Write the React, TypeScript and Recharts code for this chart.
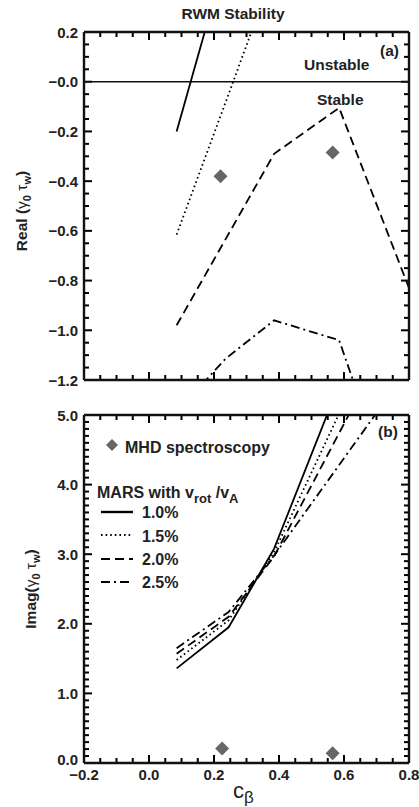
import React from 'react';
import { ComposedChart, Line, Scatter, XAxis, YAxis, ReferenceLine } from 'recharts';

const FONT = "'Liberation Sans', Arial, Helvetica, sans-serif";

// ---- data: panel (a) Real(gamma0 tau_w) vs c_beta ----
const real10 = [
  { c: 0.085, v: -0.2 },
  { c: 0.245, v: 0.54 },
];
const real15 = [
  { c: 0.085, v: -0.615 },
  { c: 0.245, v: -0.05 },
  { c: 0.385, v: 0.45 },
];
const real20 = [
  { c: 0.085, v: -0.98 },
  { c: 0.385, v: -0.29 },
  { c: 0.585, v: -0.105 },
  { c: 0.8, v: -0.83 },
];
const real25 = [
  { c: 0.085, v: -1.33 },
  { c: 0.235, v: -1.115 },
  { c: 0.385, v: -0.96 },
  { c: 0.585, v: -1.04 },
  { c: 0.8, v: -1.85 },
];
const realMHD = [
  { c: 0.22, v: -0.38 },
  { c: 0.565, v: -0.285 },
];

// ---- data: panel (b) Imag(gamma0 tau_w) vs c_beta ----
const imag10 = [
  { c: 0.085, v: 1.36 },
  { c: 0.245, v: 1.95 },
  { c: 0.385, v: 3.08 },
  { c: 0.585, v: 5.44 },
];
const imag15 = [
  { c: 0.085, v: 1.48 },
  { c: 0.245, v: 2.05 },
  { c: 0.385, v: 3.03 },
  { c: 0.585, v: 5.02 },
];
const imag20 = [
  { c: 0.085, v: 1.57 },
  { c: 0.245, v: 2.1 },
  { c: 0.385, v: 2.97 },
  { c: 0.62, v: 5.05 },
];
const imag25 = [
  { c: 0.085, v: 1.65 },
  { c: 0.245, v: 2.17 },
  { c: 0.385, v: 2.98 },
  { c: 0.7, v: 5.03 },
];
const imagMHD = [
  { c: 0.225, v: 0.21 },
  { c: 0.565, v: 0.14 },
];

// ---- ticks ----
const xMajor = [-0.2, 0, 0.2, 0.4, 0.6, 0.8];
const xMajorLabels = ['\u22120.2', '0.0', '0.2', '0.4', '0.6', '0.8'];
const realMajor = [0.2, 0, -0.2, -0.4, -0.6, -0.8, -1.0, -1.2];
const realMajorLabels = ['0.2', '\u22120.0', '\u22120.2', '\u22120.4', '\u22120.6', '\u22120.8', '\u22121.0', '\u22121.2'];
const imagMajor = [0, 1, 2, 3, 4, 5];
const imagMajorLabels = ['0.0', '1.0', '2.0', '3.0', '4.0', '5.0'];

const range = (a: number, b: number, step: number) => {
  const out: number[] = [];
  const n = Math.round((b - a) / step);
  for (let i = 0; i <= n; i++) out.push(Math.round((a + i * step) * 1000) / 1000);
  return out;
};
const xMinor = range(-0.2, 0.8, 0.05);
const realMinor = range(-1.2, 0.2, 0.05);
const imagMinor = range(0, 5, 0.1);

const majorIndex = (v: number, majors: number[]) => majors.findIndex((m) => Math.abs(m - v) < 1e-6);

// geometry of each panel
const W = 419;
const ML = 83;
const MR = 9;
const PLOT_W = W - ML - MR - 2;
const XDOM = [-0.2, 0.8];
const H1 = 400, MT1 = 31, MB1 = 19;
const H2 = 407, MT2 = 14, MB2 = 43;
const PLOT_H1 = H1 - MT1 - MB1 - 2;
const PLOT_H2 = H2 - MT2 - MB2 - 2;

const MAJ = 8; // px
const MIN = 5; // px

const makeLabel = (side: 'bottom' | 'left', majors: number[], labels: string[], liftZero: boolean) =>
  (props: any) => {
    const x = Number(props.x);
    const y = Number(props.y);
    const idx = majorIndex(props.payload.value, majors);
    if (idx < 0) return <g />;
    if (side === 'bottom') {
      return (
        <text x={x} y={y + 17} textAnchor="middle" fontFamily={FONT} fontWeight="bold" fontSize={15} fill="#222">
          {labels[idx]}
        </text>
      );
    }
    const lift = liftZero && majors[idx] === 0 ? -4 : 0;
    return (
      <text x={x - 6} y={y + 5.5 + lift} textAnchor="end" fontFamily={FONT} fontWeight="bold" fontSize={15} fill="#222">
        {labels[idx]}
      </text>
    );
  };

const frame = { stroke: '#111', strokeWidth: 2 };

const Diamond = (props: any) => {
  const { cx, cy } = props;
  const r = 7;
  return <polygon points={`${cx},${cy - r} ${cx + r},${cy} ${cx},${cy + r} ${cx - r},${cy}`} fill="#666" />;
};

const DOTTED = '1.6 3';
const DASHED = '9 5';
const DASHDOT = '9 4 2 4';

const lineProps = {
  xAxisId: 'b',
  yAxisId: 'l',
  dataKey: 'v',
  type: 'linear' as const,
  stroke: '#000',
  strokeWidth: 1.8,
  dot: false,
  activeDot: false,
  isAnimationActive: false,
};

const renderAxes = (domain: number[], majors: number[], labels: string[], xLabels: boolean) => [
  <XAxis key="xb" xAxisId="b" type="number" dataKey="c" orientation="bottom" domain={XDOM} ticks={xMajor}
    interval={0} tickSize={0} tickMargin={0} height={1} axisLine={frame} tickLine={false}
    tick={xLabels ? makeLabel('bottom', xMajor, xMajorLabels, false) : false} allowDataOverflow />,
  <XAxis key="xt" xAxisId="t" type="number" dataKey="c" orientation="top" domain={XDOM} ticks={xMajor}
    interval={0} tickSize={0} height={1} axisLine={frame} tickLine={false} tick={false} allowDataOverflow />,
  <YAxis key="yl" yAxisId="l" type="number" dataKey="v" orientation="left" domain={domain} ticks={majors}
    interval={0} tickSize={0} tickMargin={0} width={1} axisLine={frame} tickLine={false}
    tick={makeLabel('left', majors, labels, xLabels)} allowDataOverflow />,
  <YAxis key="yr" yAxisId="r" type="number" dataKey="v" orientation="right" domain={domain} ticks={majors}
    interval={0} tickSize={0} width={1} axisLine={frame} tickLine={false} tick={false} allowDataOverflow />,
];

// inward tick marks + frame, drawn as reference segments through the chart's own scales
const renderTicks = (ydom: number[], yMajor: number[], yMinor: number[], plotH: number) => {
  const out: any[] = [];
  const unitX = (XDOM[1] - XDOM[0]) / PLOT_W;
  const unitY = (ydom[1] - ydom[0]) / plotH;
  const seg = { xAxisId: 'b', yAxisId: 'l', stroke: '#000', strokeWidth: 2, ifOverflow: 'visible' as const };
  xMinor.forEach((v, i) => {
    const len = (majorIndex(v, xMajor) >= 0 ? MAJ : MIN) * unitY;
    out.push(<ReferenceLine key={`tb${i}`} {...seg} segment={[{ x: v, y: ydom[0] }, { x: v, y: ydom[0] + len }]} />);
    out.push(<ReferenceLine key={`tt${i}`} {...seg} segment={[{ x: v, y: ydom[1] }, { x: v, y: ydom[1] - len }]} />);
  });
  yMinor.forEach((v, i) => {
    const len = (majorIndex(v, yMajor) >= 0 ? MAJ : MIN) * unitX;
    out.push(<ReferenceLine key={`tl${i}`} {...seg} segment={[{ x: XDOM[0], y: v }, { x: XDOM[0] + len, y: v }]} />);
    out.push(<ReferenceLine key={`tr${i}`} {...seg} segment={[{ x: XDOM[1], y: v }, { x: XDOM[1] - len, y: v }]} />);
  });
  const fr = { xAxisId: 'b', yAxisId: 'l', stroke: '#111', strokeWidth: 2.4, ifOverflow: 'visible' as const };
  out.push(<ReferenceLine key="fl" {...fr} x={XDOM[0]} />);
  out.push(<ReferenceLine key="fr" {...fr} x={XDOM[1]} />);
  out.push(<ReferenceLine key="fb" {...fr} y={ydom[0]} />);
  out.push(<ReferenceLine key="ft" {...fr} y={ydom[1]} />);
  return out;
};

const txt = { fontFamily: FONT, fontWeight: 'bold' as const, fill: '#222' };

export default function App() {
  return (
    <div style={{ position: 'absolute', left: 0, top: 0, width: 419, height: 807, background: '#fff' }}>
      <div style={{ position: 'absolute', left: 0, top: 0 }}>
        <ComposedChart width={W} height={H1} margin={{ top: MT1, right: MR, bottom: MB1, left: ML }}>
          {renderAxes([-1.2, 0.2], realMajor, realMajorLabels, false)}
          {renderTicks([-1.2, 0.2], realMajor, realMinor, PLOT_H1)}
          <ReferenceLine xAxisId="b" yAxisId="l" y={0} stroke="#111" strokeWidth={1.5} />
          <Line {...lineProps} data={real10} />
          <Line {...lineProps} data={real15} strokeDasharray={DOTTED} />
          <Line {...lineProps} data={real20} strokeDasharray={DASHED} />
          <Line {...lineProps} data={real25} strokeDasharray={DASHDOT} />
          <Scatter xAxisId="b" yAxisId="l" dataKey="v" data={realMHD} shape={Diamond} isAnimationActive={false} />
        </ComposedChart>
      </div>
      <div style={{ position: 'absolute', left: 0, top: 400 }}>
        <ComposedChart width={W} height={H2} margin={{ top: MT2, right: MR, bottom: MB2, left: ML }}>
          {renderAxes([0, 5], imagMajor, imagMajorLabels, true)}
          {renderTicks([0, 5], imagMajor, imagMinor, PLOT_H2)}
          <Line {...lineProps} data={imag10} />
          <Line {...lineProps} data={imag15} strokeDasharray={DOTTED} />
          <Line {...lineProps} data={imag20} strokeDasharray={DASHED} />
          <Line {...lineProps} data={imag25} strokeDasharray={DASHDOT} />
          <Scatter xAxisId="b" yAxisId="l" dataKey="v" data={imagMHD} shape={Diamond} isAnimationActive={false} />
        </ComposedChart>
      </div>
      <svg width={419} height={807} style={{ position: 'absolute', left: 0, top: 0, pointerEvents: 'none' }}>
        <text x={233} y={19} textAnchor="middle" fontSize={15.5} {...txt}>RWM Stability</text>
        <text x={304} y={70} fontSize={15.5} {...txt}>Unstable</text>
        <text x={317} y={105} fontSize={15.5} {...txt}>Stable</text>
        <text x={380} y={56} fontSize={15.5} {...txt}>(a)</text>
        <text x={378} y={437} fontSize={15.5} {...txt}>(b)</text>

        <g transform="translate(27,211) rotate(-90)">
          <text x={0} y={0} textAnchor="middle" fontSize={15.5} {...txt}>
            Real (<tspan fontWeight="normal">γ</tspan><tspan dy={4} fontSize={11}>0</tspan>
            <tspan dy={-4} fontWeight="normal"> τ</tspan><tspan dy={4} fontSize={11}>w</tspan><tspan dy={-4}>)</tspan>
          </text>
        </g>
        <g transform="translate(36,589) rotate(-90)">
          <text x={0} y={0} textAnchor="middle" fontSize={15.5} {...txt}>
            Imag(<tspan fontWeight="normal">γ</tspan><tspan dy={4} fontSize={11}>0</tspan>
            <tspan dy={-4} fontWeight="normal"> τ</tspan><tspan dy={4} fontSize={11}>w</tspan><tspan dy={-4}>)</tspan>
          </text>
        </g>
        <text x={233} y={798} fontFamily={FONT} fontSize={22} fill="#222">
          c<tspan dy={5} fontSize={17}>β</tspan>
        </text>

        {/* legend */}
        <polygon points="112,439 118,445 112,451 106,445" fill="#666" />
        <text x={125} y={453} fontSize={16} {...txt}>MHD spectroscopy</text>
        <text x={97} y={498} fontSize={16} {...txt}>
          MARS with v<tspan dy={5} fontSize={13}>rot</tspan><tspan dy={-5}> /v</tspan><tspan dy={5} fontSize={13}>A</tspan>
        </text>
        <line x1={101} x2={133} y1={512} y2={512} stroke="#000" strokeWidth={2.4} />
        <text x={142} y={518} fontSize={16} {...txt}>1.0%</text>
        <line x1={101} x2={133} y1={535} y2={535} stroke="#000" strokeWidth={2} strokeDasharray={DOTTED} />
        <text x={142} y={541.5} fontSize={16} {...txt}>1.5%</text>
        <line x1={101} x2={133} y1={559} y2={559} stroke="#000" strokeWidth={2.2} strokeDasharray={DASHED} />
        <text x={142} y={565} fontSize={16} {...txt}>2.0%</text>
        <line x1={101} x2={133} y1={582} y2={582} stroke="#000" strokeWidth={2.2} strokeDasharray={DASHDOT} />
        <text x={142} y={588} fontSize={16} {...txt}>2.5%</text>
      </svg>
    </div>
  );
}
